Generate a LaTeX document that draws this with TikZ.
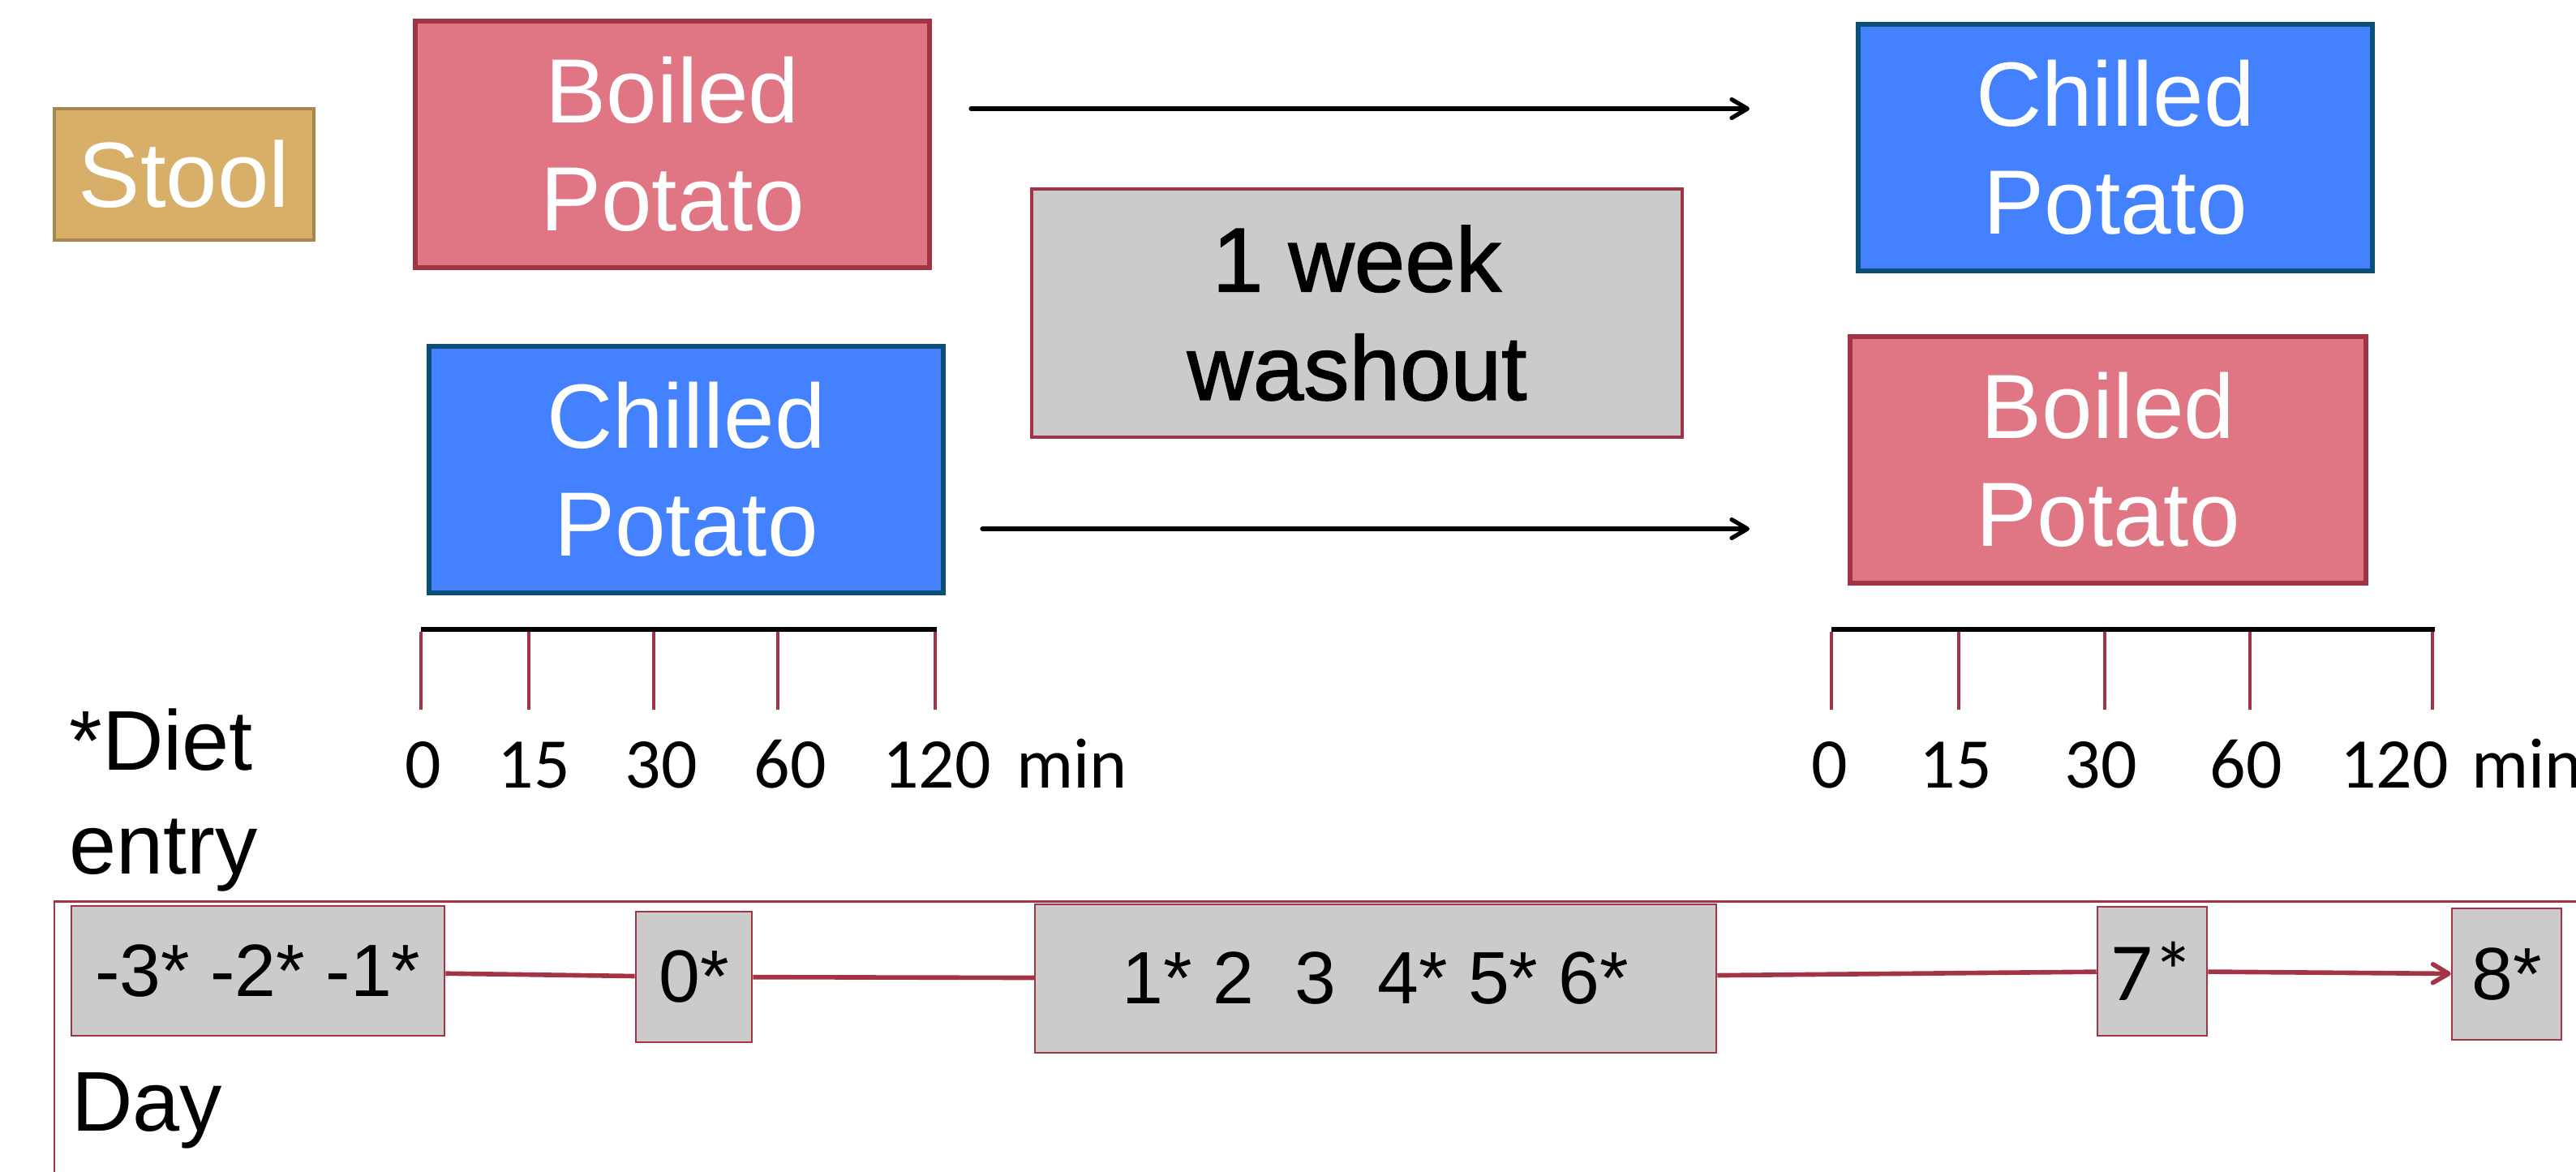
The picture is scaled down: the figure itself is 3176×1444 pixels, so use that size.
\documentclass[tikz,border=0pt]{standalone}
\usepackage{fontspec}
\setmainfont{Liberation Sans}
\newfontfamily\calfont{Carlito}
\newfontfamily\heavyfont{Liberation Sans}[FakeBold=1.3]
\usetikzlibrary{arrows.meta}
\definecolor{pinkfill}{HTML}{E07684}
\definecolor{pinkline}{HTML}{A13545}
\definecolor{bluefill}{HTML}{4381FF}
\definecolor{blueline}{HTML}{0B4F77}
\definecolor{grayfill}{HTML}{CBCBCB}
\definecolor{redline}{HTML}{A33446}
\definecolor{stoolfill}{HTML}{D7AF68}
\definecolor{stoolline}{HTML}{A8864F}
\tikzset{
  bigtext/.style={font=\fontsize{64}{76}\selectfont, align=center},
  boiledbox/.style={bigtext, draw=pinkline, fill=pinkfill, line width=3pt, text=white, inner sep=0pt, minimum width=12.68cm, minimum height=6.08cm},
  chilledbox/.style={bigtext, draw=blueline, fill=bluefill, line width=3pt, text=white, inner sep=0pt, minimum width=12.68cm, minimum height=6.08cm},
  daybox/.style={draw=redline, fill=grayfill, line width=1.5pt, inner sep=0pt, font=\fontsize{52}{62}\selectfont},
  blackarrow/.style={line width=3pt, line cap=round, -{Straight Barb[length=11pt,width=13pt,line cap=round,line join=round]}},
  rline/.style={draw=redline, line width=3.2pt},
  tickline/.style={draw=redline, line width=2pt},
  minlabel/.style={font=\calfont\fontsize{50}{60}\selectfont, anchor=base, inner sep=0pt},
}
\begin{document}
\begin{tikzpicture}[x=0.02cm, y=-0.02cm]
\useasboundingbox (0,0) rectangle (3176,1444);
\fill[white] (0,0) rectangle (3176,1444);

% top nodes
\node[draw=stoolline, fill=stoolfill, line width=2pt, text=white, inner sep=0pt,
      minimum width=6.4cm, minimum height=3.24cm, font=\fontsize{65}{76}\selectfont] (stool) at (227,215) {Stool};
\node[boiledbox] (bp1) at (829,178) {Boiled\\Potato};
\node[chilledbox] (cp1) at (2608,182) {Chilled\\Potato};
\node[bigtext, draw=pinkline, fill=grayfill, line width=2.6pt, inner sep=0pt,
      minimum width=16.04cm, minimum height=6.12cm, font=\heavyfont\fontsize{64}{76}\selectfont] (wash) at (1673,386) {1 week\\washout};
\node[chilledbox] (cp2) at (846,579) {Chilled\\Potato};
\node[boiledbox, minimum width=12.72cm] (bp2) at (2599,567) {Boiled\\Potato};

% arrows
\coordinate (a1s) at (1197,134);
\coordinate (a1e) at (2157,134);
\coordinate (a2s) at (1211,652);
\coordinate (a2e) at (2157,652);
\draw[blackarrow] (a1s) -- (a1e);
\draw[blackarrow] (a2s) -- (a2e);

% timelines
\draw[line width=3pt] (519,776) -- (1155,776);
\foreach \x in {519,652,806,959,1153} \draw[tickline] (\x,779) -- (\x,875);
\node[minlabel] (l0) at (522,971) {0};
\node[minlabel] (l15) at (658,971) {15};
\node[minlabel] (l30) at (815,971) {30};
\node[minlabel] (l60) at (974,971) {60};
\node[minlabel] (l120) at (1155,971) {120};
\node[minlabel, anchor=base west] (lmin) at (1253,971) {min};

\draw[line width=3pt] (2258,776) -- (3002,776);
\foreach \x in {2258,2415,2595,2774,2999} \draw[tickline] (\x,779) -- (\x,875);
\node[minlabel] (r0) at (2256,971) {0};
\node[minlabel] (r15) at (2411,971) {15};
\node[minlabel] (r30) at (2590,971) {30};
\node[minlabel] (r60) at (2769,971) {60};
\node[minlabel] (r120) at (2952,971) {120};
\node[minlabel, anchor=base west] (rmin) at (3047,971) {min};

% labels
\node[font=\fontsize{59.5}{72.6}\selectfont, align=left, anchor=base west, inner sep=0pt] (diet) at (85,1077) {*Diet\\entry};
\node[font=\fontsize{59.5}{72}\selectfont, anchor=base west, inner sep=0pt] (day) at (88,1394) {Day};

% outer frame
\draw[draw=redline, line width=1.7pt] (67,1600) -- (67,1111) -- (3300,1111);

% day boxes
\node[daybox, minimum width=9.2cm, minimum height=3.2cm] (d1) at (318,1197) {-3* -2* -1*};
\node[daybox, minimum width=2.86cm, minimum height=3.22cm] (d0) at (855.5,1204.5) {0*};
\node[daybox, minimum width=16.8cm, minimum height=3.66cm] (d16) at (1696,1206.5) {1*\ 2\ \ 3\ \ 4*\ 5*\ 6*};
\node[daybox, minimum width=2.7cm, minimum height=3.18cm, font=\calfont\fontsize{58}{66}\selectfont] (d7) at (2653.5,1197.5) {7*};
\node[daybox, minimum width=2.7cm, minimum height=3.24cm] (d8) at (3090.5,1201) {8*};

\draw[rline] (d1) -- (d0);
\draw[rline] (d0) -- (d16);
\draw[rline] (d16) -- (d7);
\draw[rline, -{Straight Barb[length=11pt,width=13pt,line cap=round,line join=round]}] (d7) -- (d8);
\end{tikzpicture}
\end{document}
